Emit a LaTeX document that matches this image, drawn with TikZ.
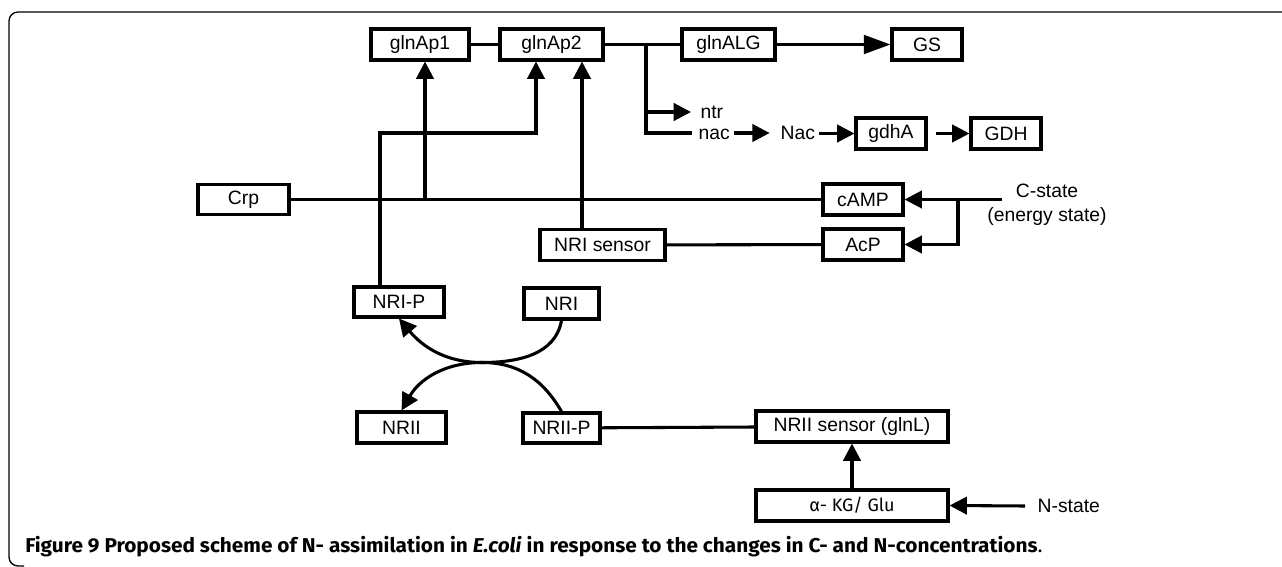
\documentclass[tikz,border=0pt]{standalone}
\usepackage{fontspec}
\setmainfont{Liberation Sans}
\newfontfamily\capfont{Fira Sans}
\usetikzlibrary{arrows.meta,calc}
\newcommand{\pxu}{0.75pt}
\begin{document}
\begin{tikzpicture}[x=0.75pt,y=-0.75pt,
  every node/.style={font=\fontsize{14.5}{17}\selectfont},
  bx/.style={draw,line width=2.3pt,inner sep=0pt,minimum height=31*\pxu},
  lbl/.style={inner sep=1pt},
  ln/.style={line width=2.3pt},
  arr/.style={line width=2.3pt,-{Triangle[length=13pt,width=13pt]}},
  bigarr/.style={line width=2.3pt,-{Triangle[length=20pt,width=14pt]}},
  frame/.style={line width=1pt,rounded corners=9*\pxu}]
\useasboundingbox (0,0) rectangle (1282,567);
\clip (0,0) rectangle (1282,567);
% frame
\draw[frame] (1290,12) -- (9,12) -- (9,566) -- (24,566);
% boxes
\node[bx,minimum width=98*\pxu]  (glnAp1) at (420,44.5) {glnAp1};
\node[bx,minimum width=103*\pxu] (glnAp2) at (551.5,44.5) {glnAp2};
\node[bx,minimum width=93*\pxu]  (glnALG) at (728.5,44.5) {glnALG};
\node[bx,minimum width=70*\pxu]  (GS) at (927,44.5) {GS};
\node[bx,minimum width=70*\pxu]  (gdhA) at (891,133.5) {gdhA};
\node[bx,minimum width=70*\pxu]  (GDH) at (1006,133.5) {GDH};
\node[bx,minimum width=91*\pxu,minimum height=30*\pxu] (Crp) at (243.5,199.5) {Crp};
\node[bx,minimum width=80*\pxu]  (cAMP) at (863,199.5) {cAMP};
\node[bx,minimum width=80*\pxu]  (AcP) at (863,244.5) {AcP};
\node[bx,minimum width=125*\pxu] (NRIs) at (602.5,245) {NRI sensor};
\node[bx,minimum width=90*\pxu,minimum height=30*\pxu] (NRIP) at (399,302) {NRI-P};
\node[bx,minimum width=75*\pxu]  (NRI) at (561.5,303.5) {NRI};
\node[bx,minimum width=89*\pxu]  (NRII) at (401.5,427.5) {NRII};
\node[bx,minimum width=77*\pxu,minimum height=30*\pxu] (NRIIP) at (561.5,428) {NRII-P};
\node[bx,minimum width=192*\pxu] (NRIIs) at (852,426.5) {NRII sensor (glnL)};
\node[bx,minimum width=192*\pxu] (KG) at (852,505.5) {\capfont\fontsize{13.5}{15}\selectfont α- KG/ Glu};
% plain labels
\node[lbl,anchor=base west] (ntr) at (699,118) {ntr};
\node[lbl,anchor=base west] (nac) at (697,139) {nac};
\node[lbl,anchor=base west] (Nac) at (779,139) {Nac};
\node[lbl,align=center] (Cstate) at (1047,205) {C-state\\[1pt](energy state)};
\node[lbl,anchor=west] (Nstate) at (1036,506) {N-state};
% coordinates
\coordinate (br1) at (646,44.5);
\coordinate (j1) at (425,199.5);
\coordinate (k1) at (380,133);
\coordinate (k2) at (536,133);
\coordinate (k3) at (582,133);
\coordinate (cs) at (1002,199.5);
\coordinate (br2) at (958,199.5);
\coordinate (ns) at (1025,506);
\coordinate (mid) at (482,362.5);
% top row
\draw[ln] (glnAp1) -- (glnAp2);
\draw[ln] (glnAp2) -- (glnALG);
\draw[bigarr] (glnALG) -- (GS);
\draw[ln] (br1) |- ([xshift=-4pt]nac.west |- k2);
\draw[arr] (br1 |- 0,112) -- ([xshift=-6pt]ntr.west |- 0,112);
\draw[arr,shorten <=2pt,shorten >=7pt] (nac.east |- k2) -- (Nac.west |- k2);
\draw[arr,shorten <=2pt] (Nac.east |- gdhA) -- (gdhA.west);
\draw[arr,shorten <=6pt] (gdhA) -- (GDH);
% Crp line and regulation
\draw[ln] (Crp) -- (cAMP);
\draw[arr] (j1) -- (j1 |- glnAp1.south);
\draw[arr] (k1 |- NRIP.north) -- (k1) -- (k2) -- (k2 |- glnAp2.south);
\draw[arr] (k3 |- NRIs.north) -- (k3 |- glnAp2.south);
\draw[ln] (NRIs) -- (AcP);
\draw[arr] (cs) -- (cAMP.east);
\draw[arr] (br2) |- (AcP.east);
% phosphorylation cycle
\draw[arr] (NRI.south) to[out=-100,in=0] (mid) to[out=180,in=-50] (NRIP.south);
\draw[arr] (NRIIP.north) to[out=120,in=0] (mid) to[out=180,in=60] (NRII.north);
\draw[ln] (NRIIP) -- (NRIIs);
\draw[arr] (KG) -- (NRIIs);
\draw[arr] (ns) -- (KG.east);
% caption
\node[anchor=base west,inner sep=0pt] (cap) at (25,552) {\capfont\fontsize{15}{18}\selectfont\resizebox{763pt}{\height}{\bfseries Figure 9 Proposed scheme of N- assimilation in \textit{E.coli} in response to the changes in C- and N-concentrations\mdseries.}};
\end{tikzpicture}
\end{document}
